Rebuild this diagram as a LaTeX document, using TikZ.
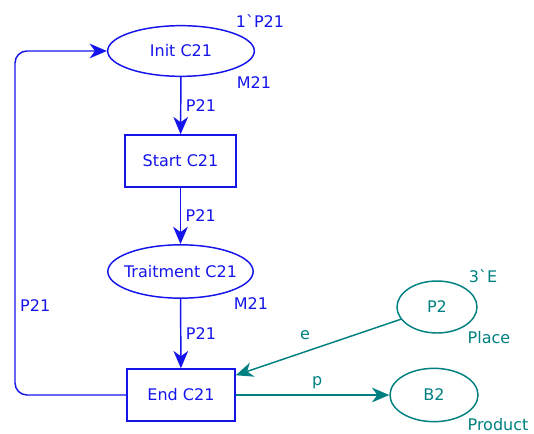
\documentclass[tikz,border=0pt]{standalone}
\usepackage{fontspec}
\setmainfont{DejaVu Sans}
\usetikzlibrary{shapes.geometric,arrows.meta}
\definecolor{netblue}{RGB}{20,20,235}
\definecolor{netteal}{RGB}{0,128,128}
\tikzstyle{place} = [draw, shape=ellipse, inner sep=0pt, line width=1.1pt]
\tikzstyle{transition} = [draw, shape=rectangle, inner sep=0pt, minimum height=39pt, line width=1.1pt]

\begin{document}
\begin{tikzpicture}[x=.75pt, y=-.75pt, font=\fontsize{12}{14}\selectfont, line width=1.1pt,
    >={Stealth[length=13pt,width=11pt,inset=4pt]}]
    \useasboundingbox (0,0) rectangle (534,434);
    \begin{scope}[color=netblue]
    \draw (181,51) node[place, minimum width=110pt, minimum height=38pt] (init) {Init C21};
    \draw (180.5,161) node[transition, minimum width=83pt] (start) {Start C21};
    \draw (180.5,271.5) node[place, inner xsep=-4pt, minimum width=109pt, minimum height=40pt] (trait) {Traitment C21};
    \draw (181,395) node[transition, minimum width=81pt] (end) {End C21};
    \coordinate (corner) at (15,51);
    \draw [->] (init) -- node [right] {P21} (start);
    \draw [->] (start) -- node [right] {P21} (trait);
    \draw [->] (trait) -- node [right] {P21} (end);
    \draw [->, rounded corners=9pt] (end.west) -| node [pos=.63, right] {P21} (corner) -- (init.west);
    \node (initmark) at (260,21) {1\textasciigrave P21};
    \node (inittype) at (254,83) {M21};
    \node (traittype) at (251,304) {M21};
    \end{scope}
    \begin{scope}[color=netteal]
    \draw (437,307) node[place, minimum width=60pt, minimum height=39pt] (p2) {P2};
    \draw (434,395) node[place, minimum width=66pt, minimum height=40pt] (b2) {B2};
    \draw [->] (p2) -- node [pos=.58, above=5pt] {e} ([yshift=-5.25pt]end.north east);
    \draw [->] (end) -- node [pos=.53, above=1pt] {p} (b2);
    \node (p2mark) at (483,276) {3\textasciigrave E};
    \node (p2type) at (489,338) {Place};
    \node (b2type) at (498,425) {Product};
    \end{scope}
\end{tikzpicture}
\end{document}
